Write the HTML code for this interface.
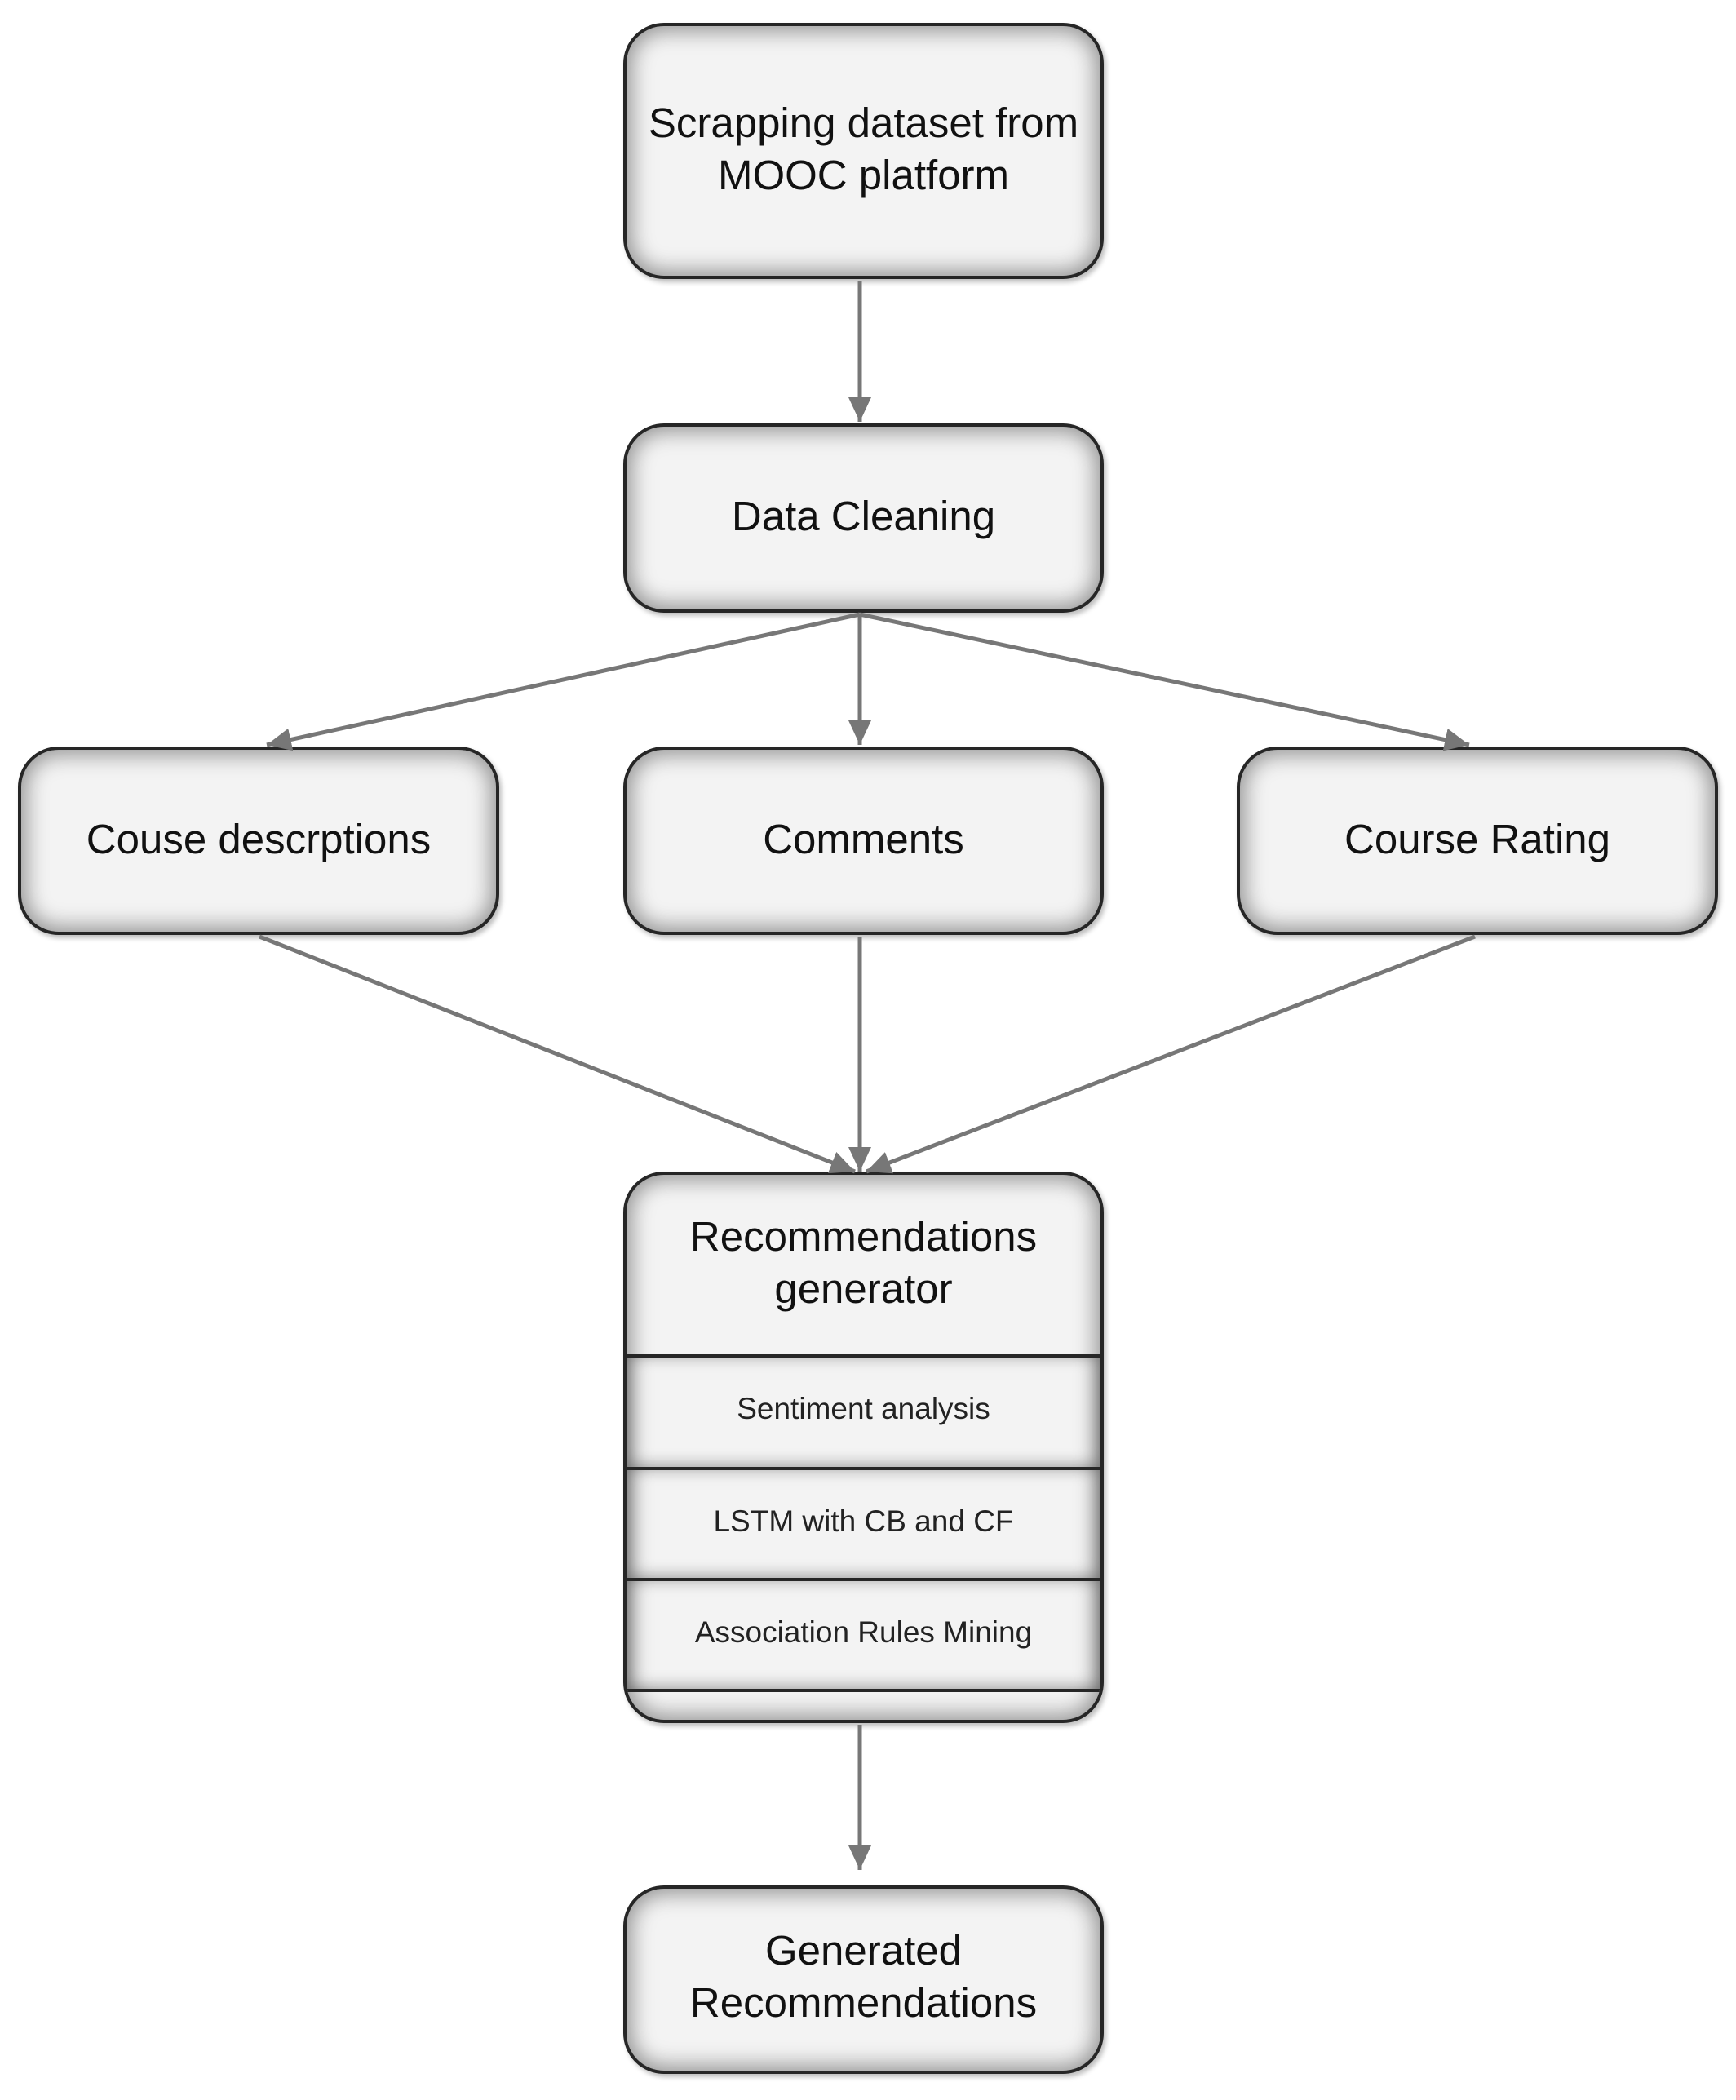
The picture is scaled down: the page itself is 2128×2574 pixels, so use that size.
<!DOCTYPE html>
<html><head><meta charset="utf-8"><style>
html,body{margin:0;padding:0;background:#fff;}
body{width:2128px;height:2574px;position:relative;overflow:hidden;font-family:"Liberation Sans Narrow","Liberation Sans",sans-serif;}
.b{position:absolute;box-sizing:border-box;border:4px solid #262626;border-radius:50px;background:#f3f3f3;box-shadow:inset 0 0 26px 6px rgba(0,0,0,0.4),3px 4px 6px rgba(0,0,0,0.25);}
.t{position:absolute;left:0;right:0;text-align:center;color:#111;font-size:51px;line-height:64px;}
.s{position:absolute;left:0;right:0;text-align:center;color:#222;font-size:37px;}
.div{position:absolute;left:0;right:0;border-top:4px solid #262626;}
.sec{position:absolute;left:0;right:0;box-shadow:inset 0 0 18px 3px rgba(0,0,0,0.35);}
svg{position:absolute;left:0;top:0;}
</style></head><body>
<div class="b" style="left:764px;top:28px;width:589px;height:314px;"><div class="t" style="top:87px;">Scrapping dataset from<br>MOOC platform</div></div>
<div class="b" style="left:764px;top:519px;width:589px;height:232px;"><div class="t" style="top:78px;">Data Cleaning</div></div>
<div class="b" style="left:22px;top:915px;width:590px;height:231px;"><div class="t" style="top:78px;">Couse descrptions</div></div>
<div class="b" style="left:764px;top:915px;width:589px;height:231px;"><div class="t" style="top:78px;">Comments</div></div>
<div class="b" style="left:1516px;top:915px;width:590px;height:231px;"><div class="t" style="top:78px;">Course Rating</div></div>
<div class="b" style="left:764px;top:1436px;width:589px;height:676px;overflow:hidden;">
 <div class="t" style="top:44px;">Recommendations<br>generator</div>
 <div class="sec" style="top:220px;height:138px;"></div>
 <div class="sec" style="top:358px;height:136px;"></div>
 <div class="sec" style="top:494px;height:136px;"></div>
 <div class="div" style="top:220px;"></div>
 <div class="div" style="top:358px;"></div>
 <div class="div" style="top:494px;"></div>
 <div class="div" style="top:630px;"></div>
 <div class="s" style="top:266px;">Sentiment analysis</div>
 <div class="s" style="top:404px;">LSTM with CB and CF</div>
 <div class="s" style="top:540px;">Association Rules Mining</div>
</div>
<div class="b" style="left:764px;top:2311px;width:589px;height:231px;"><div class="t" style="top:44px;">Generated<br>Recommendations</div></div>
<svg width="2128" height="2574">
<defs>
<marker id="m" viewBox="0 0 30 28" refX="30" refY="14" markerWidth="30" markerHeight="28" orient="auto" markerUnits="userSpaceOnUse"><path d="M0,0 L30,14 L0,28 Z" fill="#777"/></marker></defs>
<g stroke="#777" stroke-width="5" fill="none" marker-end="url(#m)">
<line x1="1054" y1="344" x2="1054" y2="517"/>
<line x1="1054" y1="753" x2="327" y2="913"/>
<line x1="1054" y1="753" x2="1054" y2="913"/>
<line x1="1054" y1="753" x2="1801" y2="913"/>
<line x1="318" y1="1148" x2="1048" y2="1436"/>
<line x1="1054" y1="1148" x2="1054" y2="1436"/>
<line x1="1808" y1="1148" x2="1062" y2="1436"/>
<line x1="1054" y1="2114" x2="1054" y2="2292"/>
</g>
</svg>
</body></html>
